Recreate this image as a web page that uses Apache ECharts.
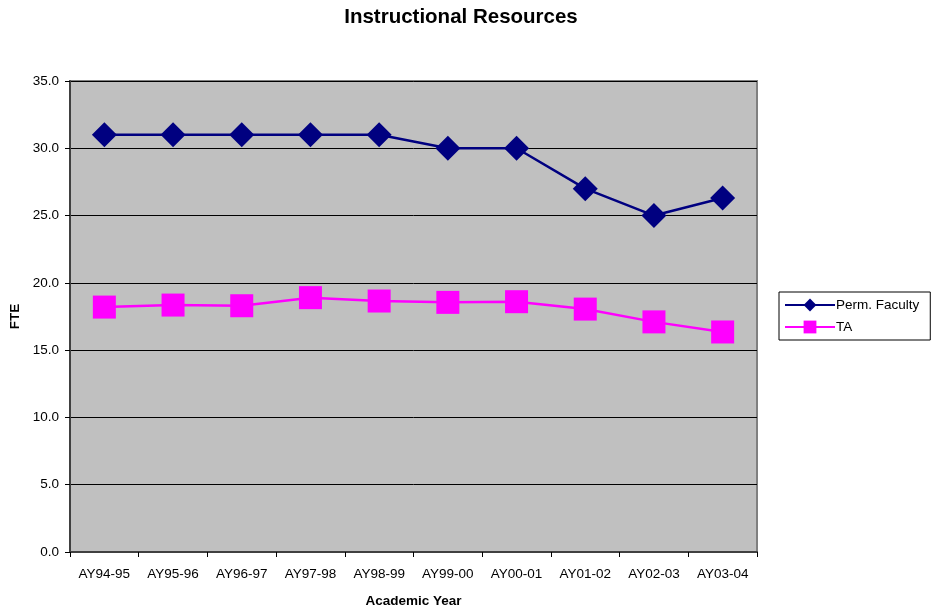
<!DOCTYPE html>
<html>
<head>
<meta charset="utf-8">
<script src="https://cdn.jsdelivr.net/npm/echarts@6/dist/echarts.min.js"></script>
<style>
  html, body { margin: 0; padding: 0; background: #fff; }
  #chart { width: 931px; height: 608px; }
</style>
</head>
<body>
<div id="chart"></div>
<script>
// Academic years on the x axis
const years = ['AY94-95', 'AY95-96', 'AY96-97', 'AY97-98', 'AY98-99',
               'AY99-00', 'AY00-01', 'AY01-02', 'AY02-03', 'AY03-04'];
// FTE per year
const permFaculty = [31, 31, 31, 31, 31, 30, 30, 27, 25, 26.3];
const ta = [18.2, 18.35, 18.3, 18.9, 18.65, 18.55, 18.6, 18.05, 17.1, 16.35];
// Value axis range
const yMin = 0, yMax = 35, yStep = 5;

const font = 'Arial, "Liberation Sans", sans-serif';
const chart = echarts.init(document.getElementById('chart'));
chart.setOption({
  animation: false,
  backgroundColor: '#ffffff',
  title: {
    text: 'Instructional Resources',
    left: 456, top: 2, textAlign: 'center',
    textStyle: { fontFamily: font, fontSize: 20.5, fontWeight: 'bold', color: '#000' }
  },
  legend: {
    orient: 'vertical',
    left: 779, top: 292,
    padding: [6, 11, 6, 5],
    itemGap: 8,
    itemWidth: 50, itemHeight: 16,
    borderColor: '#000', borderWidth: 1,
    backgroundColor: '#fff',
    textStyle: { fontFamily: font, fontSize: 13.5, color: '#000', padding: [0, 0, 0, -4] },
    data: ['Perm. Faculty', 'TA']
  },
  grid: {
    left: 70, top: 81, right: 174, bottom: 56,
    outerBoundsMode: 'none',
    containLabel: false,
    show: true, backgroundColor: '#c0c0c0',
    borderColor: '#808080', borderWidth: 2
  },
  xAxis: {
    type: 'category',
    data: years,
    boundaryGap: true,
    name: 'Academic Year',
    nameLocation: 'middle',
    nameGap: 42,
    nameTextStyle: { fontFamily: font, fontSize: 13.5, fontWeight: 'bold', color: '#000' },
    axisLine: { lineStyle: { color: '#404040', width: 2 } },
    axisTick: { show: true, length: 5, lineStyle: { color: '#000', width: 1 } },
    axisLabel: { fontFamily: font, fontSize: 13.5, color: '#000', margin: 15 }
  },
  yAxis: {
    type: 'value',
    min: yMin, max: yMax, interval: yStep,
    name: 'FTE',
    nameLocation: 'middle',
    nameGap: 44,
    nameRotate: 90,
    nameTextStyle: { fontFamily: font, fontSize: 13.5, fontWeight: 'bold', color: '#000' },
    axisLine: { show: true, lineStyle: { color: '#404040', width: 2 } },
    axisTick: { show: true, length: 5, lineStyle: { color: '#000', width: 1 } },
    axisLabel: { fontFamily: font, fontSize: 13.5, color: '#000', margin: 11,
                 formatter: v => v.toFixed(1) },
    splitLine: { show: true, lineStyle: { color: '#000', width: 1 } }
  },
  series: [
    {
      name: 'Perm. Faculty',
      type: 'line',
      data: permFaculty,
      symbol: 'diamond',
      symbolSize: 25,
      itemStyle: { color: '#000080' },
      lineStyle: { color: '#000080', width: 2.5 },
      z: 3
    },
    {
      name: 'TA',
      type: 'line',
      data: ta,
      symbol: 'rect',
      symbolSize: 23,
      itemStyle: { color: '#ff00ff' },
      lineStyle: { color: '#ff00ff', width: 2.5 },
      z: 2
    }
  ]
});
</script>
</body>
</html>
